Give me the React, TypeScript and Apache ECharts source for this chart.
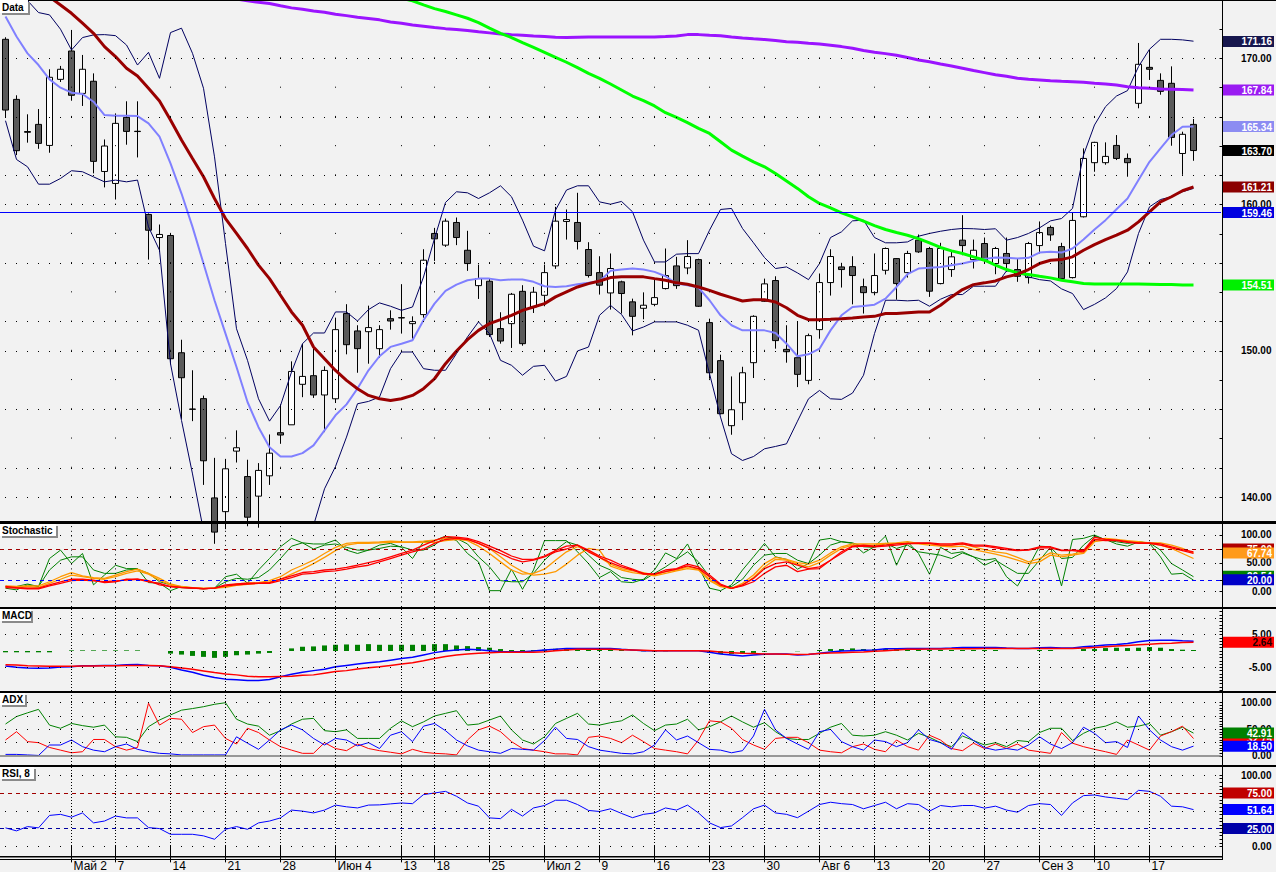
import React, { useEffect, useRef } from "react";
import * as echarts from "echarts";

// ---------- categories ----------
const barDates: string[] = [
  "23.04","24.04","25.04","26.04","27.04","28.04",
  "02.05","03.05","04.05","05.05","07.05","08.05","10.05","11.05","12.05",
  "14.05","15.05","16.05","17.05","18.05",
  "21.05","22.05","23.05","24.05","25.05",
  "28.05","29.05","30.05","31.05","01.06",
  "04.06","05.06","06.06","07.06","08.06","09.06",
  "13.06","14.06","15.06",
  "18.06","19.06","20.06","21.06","22.06",
  "25.06","26.06","27.06","28.06","29.06",
  "02.07","03.07","04.07","05.07","06.07",
  "09.07","10.07","11.07","12.07","13.07",
  "16.07","17.07","18.07","19.07","20.07",
  "23.07","24.07","25.07","26.07","27.07",
  "30.07","31.07","01.08","02.08","03.08",
  "06.08","07.08","08.08","09.08","10.08",
  "13.08","14.08","15.08","16.08","17.08",
  "20.08","21.08","22.08","23.08","24.08",
  "27.08","28.08","29.08","30.08","31.08",
  "03.09","04.09","05.09","06.09","07.09",
  "10.09","11.09","12.09","13.09","14.09",
  "17.09","18.09","19.09","20.09","21.09",
];
const xTickIndex = [6, 10, 15, 20, 25, 30, 36, 39, 44, 49, 54, 59, 64, 69, 74, 79, 84, 89, 94, 99, 104];
const xTickText = ["Май 2","7","14","21","28","Июн 4","13","18","25","Июл 2","9","16","23","30","Авг 6","13","20","27","Сен 3","10","17"];

// ---------- prices ----------
const opens = [171.31,167.20,165.00,165.49,164.05,168.57,170.51,167.61,168.44,162.27,
161.45,165.97,165.02,159.33,157.75,157.89,149.87,146.02,146.73,139.94,
139.00,143.14,141.40,140.06,141.45,144.40,144.94,147.71,148.30,146.98,
146.72,152.55,151.36,151.31,150.15,152.20,152.27,151.86,152.48,158.03,
157.23,158.78,156.88,154.46,154.76,151.52,151.86,154.07,153.00,153.80,
155.81,158.85,158.78,156.93,155.35,153.96,154.72,153.35,152.91,153.18,
154.26,155.81,155.67,156.24,151.93,149.33,144.88,146.45,149.19,153.39,
154.81,150.10,149.53,147.98,151.45,154.67,155.74,155.76,154.39,153.98,
155.51,156.31,155.35,157.57,157.00,154.60,155.56,157.57,156.24,157.34,
155.97,156.66,155.56,155.01,157.20,158.44,157.13,155.01,159.17,162.87,
162.87,164.05,163.16,166.93,169.39,168.50,168.30,163.50,165.49];
const closes = [166.47,163.69,164.95,164.19,168.71,169.26,167.48,169.26,162.96,164.01,
165.56,165.01,165.00,158.25,157.96,149.46,148.16,146.00,142.48,137.60,
141.93,143.37,138.62,141.82,143.00,144.24,148.59,148.25,146.98,148.66,
151.45,150.42,150.15,151.59,151.45,152.04,152.25,152.00,156.20,157.66,
158.87,157.75,155.97,154.94,151.11,150.67,153.87,150.49,154.01,155.35,
158.87,158.98,157.48,155.15,154.49,155.63,153.92,152.36,153.12,153.64,
155.15,154.46,156.45,153.05,148.50,145.70,145.97,148.50,152.36,154.58,
150.70,149.94,148.39,151.04,154.67,156.45,155.56,155.15,153.98,155.15,
157.00,154.60,156.66,156.77,154.08,157.00,156.43,157.20,156.88,156.20,
157.00,155.97,155.10,157.34,158.09,157.93,154.94,158.92,163.16,164.26,
163.30,163.16,162.87,169.60,169.26,167.75,164.60,164.81,163.70];
const lows = [165.97,163.39,164.24,163.82,163.55,168.39,167.11,166.75,162.14,161.18,
160.35,164.10,163.23,156.24,156.77,149.07,145.35,145.19,140.83,136.80,
137.80,142.36,138.00,137.90,140.83,143.64,144.94,146.83,146.78,144.44,
146.43,149.76,148.50,149.12,149.52,151.45,151.18,150.83,152.27,156.15,
157.11,157.23,155.47,153.55,150.95,150.49,150.20,150.35,152.59,153.05,
155.61,157.61,156.93,155.01,153.85,152.82,152.55,151.06,152.16,153.05,
154.20,154.24,155.24,153.00,148.09,145.65,144.26,145.26,148.14,153.35,
150.15,149.19,147.52,147.71,150.83,153.78,154.33,153.18,152.55,153.80,
155.22,153.50,155.01,156.70,153.69,154.55,155.06,156.54,155.63,155.97,
155.24,155.40,154.72,154.60,156.66,157.52,154.90,154.95,159.12,162.25,
162.73,163.05,161.91,166.59,168.53,167.52,164.03,162.04,163.00];
const highs = [171.45,167.48,166.18,166.54,169.26,169.49,171.95,170.24,168.98,164.46,
166.24,167.07,167.07,159.40,158.64,158.03,150.76,148.67,146.94,142.68,
142.61,144.56,142.55,142.32,144.28,146.34,149.28,150.49,150.17,148.94,
152.27,153.19,151.75,153.09,151.75,152.77,154.56,152.36,156.95,158.41,
159.05,159.12,158.21,155.90,154.94,152.64,153.96,154.49,154.37,155.90,
159.85,159.67,160.81,157.43,156.47,156.66,154.80,153.57,154.00,154.87,
157.00,156.43,157.57,156.30,152.20,149.74,148.25,148.91,152.43,154.94,
155.10,151.75,152.02,151.18,155.29,156.95,156.02,156.47,154.94,156.66,
157.07,156.35,156.84,157.96,157.11,157.39,156.84,159.28,157.61,157.75,
157.11,157.75,156.31,157.45,158.85,158.57,157.39,159.46,163.85,164.30,
164.26,164.76,163.50,171.06,170.58,168.98,169.46,164.99,165.86];

// ---------- overlays ----------
const bbUpper = [175.56,174.76,173.96,173.14,172.98,172.00,170.58,171.43,171.61,171.63,
171.56,170.92,169.55,170.42,168.64,171.77,172.07,170.35,167.96,163.27,
157.34,151.51,149.35,146.72,145.19,146.26,148.55,150.49,151.22,151.22,
152.66,152.66,152.04,152.82,153.28,153.05,152.77,153.00,155.05,157.68,
160.15,160.88,160.81,160.42,160.81,161.29,160.54,158.94,157.16,156.84,
159.62,161.00,161.29,161.29,160.19,160.03,160.22,159.51,157.57,156.08,
156.08,156.61,156.65,156.65,158.25,159.67,159.74,158.37,157.39,156.38,
155.63,155.74,155.33,154.87,155.97,157.75,158.14,158.89,158.94,157.75,
157.39,157.39,157.45,157.84,158.03,158.18,158.30,158.37,158.35,158.30,
158.35,157.57,157.75,158.03,158.41,158.89,159.05,159.74,163.39,165.45,
166.70,167.43,167.80,169.44,170.63,171.31,171.31,171.27,171.18];
const bbLower = [165.74,163.09,162.59,161.40,161.40,161.79,162.32,162.25,161.90,161.56,
161.68,161.56,161.68,158.48,156.88,149.12,145.24,141.58,137.70,135.50,
133.50,132.50,132.00,132.00,132.50,133.50,135.00,136.50,138.05,140.56,
142.09,144.10,146.38,146.54,146.84,148.78,149.92,149.92,148.78,148.67,
148.67,149.81,150.95,151.98,151.18,149.35,149.01,148.33,148.94,149.01,
147.93,148.25,149.99,150.26,152.43,153.11,152.49,151.36,151.63,151.98,
151.98,151.98,151.75,151.41,148.44,145.47,142.96,142.50,142.77,143.30,
143.46,143.64,145.19,146.72,147.29,146.72,146.68,147.11,148.33,151.18,
153.46,153.46,153.42,153.46,153.05,153.53,153.85,153.85,154.42,154.42,
154.42,155.47,155.40,155.06,154.87,154.78,154.24,153.92,152.82,153.18,
153.62,154.26,155.40,158.03,159.85,160.35,160.54,160.88,161.11];
const bbMiddle = [172.87,171.50,170.35,169.55,168.57,168.00,167.66,167.57,167.04,166.13,
166.08,166.08,166.06,165.56,164.65,162.82,160.76,158.48,155.97,153.46,
151.18,148.89,146.50,144.78,143.41,142.77,142.77,143.00,143.53,144.56,
145.59,146.34,147.42,148.67,149.63,150.27,150.49,150.72,152.09,153.23,
154.10,154.53,154.83,154.94,154.94,154.83,154.88,154.88,154.72,154.42,
154.37,154.42,154.56,154.65,154.76,155.47,155.56,155.63,155.56,155.40,
155.10,154.60,154.49,154.33,153.46,152.43,151.75,151.40,151.40,151.40,
151.22,150.49,149.63,149.76,150.15,151.40,152.43,153.00,153.07,153.16,
153.57,154.37,155.24,155.63,155.68,155.74,155.86,155.97,156.15,156.29,
156.38,156.36,156.31,156.36,156.72,156.77,156.72,157.00,157.61,158.30,
158.94,159.69,160.42,161.68,162.93,163.85,164.76,165.33,165.34];
const maRed = [176.40,175.85,175.30,174.76,174.21,173.66,173.09,172.41,171.72,170.81,
170.13,169.33,168.80,167.96,167.09,165.79,164.42,163.16,161.91,160.42,
159.05,158.03,157.00,155.86,154.94,153.80,152.66,151.75,150.26,149.46,
148.66,147.98,147.41,146.95,146.72,146.61,146.72,146.95,147.41,148.09,
149.12,149.99,150.76,151.40,151.86,152.13,152.43,152.77,153.00,153.23,
153.69,154.03,154.37,154.60,154.78,155.01,155.06,155.06,155.06,154.94,
154.83,154.65,154.56,154.37,154.14,153.87,153.64,153.41,153.50,153.50,
153.34,152.95,152.43,152.13,152.13,152.16,152.20,152.25,152.32,152.36,
152.55,152.55,152.61,152.66,152.66,153.12,153.69,154.19,154.53,154.65,
154.78,155.06,155.24,155.56,155.97,156.20,156.24,156.43,156.88,157.27,
157.61,157.91,158.25,158.82,159.51,160.19,160.54,160.95,161.21];
const maGreen = [null,null,null,null,null,null,null,null,null,null,
null,null,null,null,null,null,null,null,null,null,
null,null,null,null,null,null,null,null,null,null,
null,null,null,null,174.58,174.33,174.12,173.94,173.66,173.41,
173.21,172.98,172.75,172.45,172.07,171.72,171.43,171.08,170.76,170.42,
170.08,169.74,169.37,168.98,168.64,168.25,167.84,167.43,167.11,166.75,
166.29,165.97,165.61,165.22,164.87,164.30,163.73,163.32,162.93,162.59,
162.13,161.61,161.11,160.54,160.08,159.78,159.44,159.17,158.87,158.57,
158.30,158.09,157.91,157.68,157.39,157.07,156.84,156.66,156.43,156.20,
155.86,155.56,155.33,155.22,155.10,154.99,154.83,154.72,154.60,154.58,
154.58,154.58,154.58,154.58,154.56,154.53,154.53,154.51,154.51];
const maPurple = [null,null,null,null,null,null,null,null,null,null,
null,null,null,null,null,null,null,null,null,null,
174.24,174.07,173.94,173.85,173.76,173.60,173.46,173.37,173.25,173.16,
173.03,172.93,172.82,172.73,172.64,172.50,172.41,172.29,172.20,172.11,
172.04,171.98,171.91,171.82,171.75,171.68,171.63,171.59,171.54,171.50,
171.45,171.43,171.45,171.47,171.47,171.47,171.47,171.47,171.47,171.47,
171.50,171.54,171.63,171.63,171.59,171.56,171.47,171.40,171.34,171.29,
171.22,171.15,171.11,171.04,170.99,170.90,170.81,170.70,170.54,170.42,
170.33,170.22,170.06,169.90,169.78,169.62,169.49,169.33,169.17,169.03,
168.89,168.78,168.64,168.57,168.53,168.48,168.44,168.41,168.37,168.30,
168.25,168.18,168.07,168.00,167.96,167.91,167.89,167.87,167.84];
const levelPrice = 159.46;

// ---------- stochastic ----------
const stochGreenA = [5,2,11,8,58,73,49,67,11,28.5,46,40,40,15,14,0.6,8,5,4,5,25.5,30,14,37.5,58,79,94,86,
75,82,84,78,73,73,82,85,78,58,88,90,98,90,67,52,0.6,0.6,39,3,37.5,90,90,90,70,49,24,
34.5,16.5,15,21,37.5,68,58,84,43,5,0.6,11,37.5,61,85,61,56.5,39,49,91,94,88,85,68,79,98,46,88,
67,30,78,67,70,61,55,58,25.5,9,43,80,79,9,92,94,100,91,88,85,88,85,61,30,31.5,19.5];
const stochGreenB = [8,8,12.5,8,37.5,55,61,61,37.5,31.5,31.5,37.5,39,31.5,16.5,11,6,5,4,5,16.5,22.5,21,24,37.5,58,80,86,
84,84,91,73,67,73,76,80,79,73,73,82,97,94,84,61,43,18.5,16.5,16.5,31.5,55,73,88,82,64,46,
37.5,24,21,19.5,31.5,43,56.5,70,52,25.5,8,8,21,46,64,67,67,55,49,64,82,88,86,79,78,85,76,82,
70,67,64,58,68,61,46,55,43,31.5,31.5,55,78,58,60,82,98,92,84,80,87.5,86,73,49,37.5,25.5];
const stochRedA = [8,6,5,5,11,16.5,21,21,19.5,15,16.5,21,21,18.5,11,8,6.5,5.4,4.2,5,11,12.5,14,14,15,21,27,33,
34.5,37.5,39,42,46,50.5,55,61,67,73,82,90,97,96,94,88,80,72,62.5,56.5,56.5,62.5,72,80,82,73,62.5,
55,46,39,31.5,30,37.5,40,48,43,28.5,12.5,4.8,11,22.5,40,49,52,46,40,43,55,70,80,82,80,82,84,85,
86,86,84,84,86,82,82,79,76,73,74,79,79,73,73,72,96,92,91,88,86,86,84,79,74,70];
const stochRedB = [6,5,4,4,9,13.7,18.5,19.5,18,16.5,18,19.5,21,16.5,13.7,8,6,5,4,5,9,11,12.5,13.7,13.7,18.5,24,30,
31.5,34.5,36,39,43,46,52,58,64,70,75,85,92,94,92,85,76,67,58,52,55,61,70,75,82,70,60,
50.5,43,37.5,30,30,34.5,39,45,40,25.5,10.7,4.8,9,16.5,31.5,43,46,34.5,39,40,55,67,79,80,79,80,82,84,
85,85,82,82,84,80,80,77,74,72,73,77,77,72,72,70,92,90,90,87,85,85,82,77,72,67];
const stochOrangeA = [9,8,9,9,16.5,25.5,33,27,24,22.5,28.5,34.5,39,31.5,22.5,12.5,8,6,5,5,8,12.5,14,15,18.5,25.5,37.5,46,
55,67,78,85,87,87,87.5,89,88,87.5,89,91,94,93,90,80,67,52,37.5,30,31.5,39,55,70,79,72,60,
48,40,36,33,28.5,34.5,37.5,43,39,21,9,4.8,13.7,28.5,49,60,56.5,50.5,48,55,68,79,84,84,84,85,86,88,
85,84,82,82,84,79,74,70,67,60,52,58,68,64,66,70,91,94,92,90,88,86,86,82,76,67.74];
const stochOrangeB = [8,6.5,8,6.5,13.7,21,28.5,25.5,22.5,21,25.5,31.5,36,30,19.5,10.7,8,5.4,4.2,5,6.5,10,12,13.7,16,21,30,39,
49,60,72,82,85,85,86,87,87,87,87,87,90,92,92,85,76,61,46,34.5,28.5,30,34.5,48,64,76,73,
44.6,37.5,33,30,27,31.5,36,40,37.5,18.5,7.7,4.8,10.7,24,43,56.5,55,48,43,50.5,64,76,82,82,82,84,85,86,
84,82,80,79,80,74,70,66,61,55,49,52,64,61,64,67,88,91,91,88,87,85,82,76,67,58];

// ---------- MACD ----------
const macdLine = [-4.6,-5.0,-5.2,-5.3,-5.2,-4.9,-4.8,-4.5,-4.5,-4.4,-4.4,-4.2,-4.1,-4.4,-4.5,-5.0,-5.8,-6.5,-7.4,-8.1,-8.6,-8.8,-9.0,-9.0,-8.7,-7.9,-7.1,-6.5,
-6.0,-5.6,-4.8,-4.4,-4.0,-3.6,-3.3,-2.8,-2.3,-1.9,-1.2,-0.5,0,0.3,0.5,0.4,0.1,-0.2,-0.2,-0.2,0,0.3,0.5,0.8,0.8,0.8,0.8,
0.8,0.5,0.3,0.1,0.1,0.1,0.1,0.1,0.1,-0.4,-0.9,-1.2,-1.5,-1.2,-1.0,-0.9,-0.9,-1.2,-1.1,-0.7,-0.3,0,0.1,0.2,0.3,0.7,0.7,0.8,
0.8,0.8,0.8,0.9,1.1,1.1,1.1,1.1,0.9,0.8,0.8,1.0,1.1,0.9,0.9,1.3,1.5,1.8,2.0,2.3,2.8,3.2,3.3,3.3,3.1,3.0];
const macdSignal = [-4.2,-4.3,-4.5,-4.6,-4.7,-4.7,-4.7,-4.6,-4.6,-4.5,-4.5,-4.4,-4.4,-4.4,-4.5,-4.8,-5.2,-5.6,-6.1,-6.6,-7.0,-7.3,-7.7,-7.9,-7.9,-7.8,-7.7,-7.4,
-7.3,-6.8,-6.3,-6.0,-5.5,-5.1,-4.8,-4.4,-4.0,-3.6,-3.0,-2.3,-1.7,-1.2,-0.9,-0.7,-0.5,-0.4,-0.4,-0.4,-0.4,-0.2,0.1,0.3,0.5,0.5,0.5,
0.5,0.4,0.3,0.2,0.1,0.1,0.1,0.1,0.1,0,-0.3,-0.5,-0.7,-0.8,-0.9,-0.9,-1.0,-1.1,-1.0,-0.8,-0.6,-0.5,-0.4,-0.3,-0.1,0.1,0.3,0.5,
0.5,0.6,0.6,0.7,0.7,0.7,0.8,0.8,0.8,0.8,0.8,0.8,0.8,0.8,0.8,0.9,1.1,1.3,1.5,1.7,1.9,2.1,2.3,2.4,2.6,2.64];
const macdHist = [-0.4,-0.4,-0.4,-0.4,-0.4,0,0.2,0.2,0.2,0.2,0.2,0.2,0.2,0,0,-0.8,-1.1,-1.5,-1.8,-2.1,-1.8,-1.3,-1.1,-0.8,-0.6,0,0.8,1.3,
1.4,1.7,1.9,2.0,1.9,2.1,1.9,1.9,1.9,1.9,1.9,2.1,2.1,1.7,1.5,1.2,1.0,0.6,0.3,0.3,0.3,0.4,0.7,0.9,0.9,0.7,0.7,
0.5,0.3,0.1,-0.1,-0.2,-0.1,0,0,0,-0.6,-0.9,-0.9,-0.7,-0.6,-0.2,0,0,-0.1,0,0.3,0.6,0.6,0.8,0.6,0.6,0.6,0.6,0.6,
0.3,0.3,0.3,0.3,0.3,0.3,0.3,0.3,0,0,0,0.3,0.3,0,0,0.6,0.6,0.9,1.0,0.9,1.0,1.2,1.0,0.6,0.4,0.3];

// ---------- ADX ----------
const adxGreen = [60,74,81,87.5,58,52,61,57,54,58,36,35,27,55,67.5,77,86,89,92.5,97,100,69,60,56,39,47.5,60,69,
70.6,47.5,45.6,49,33,33,33,52,66,55,64,75,80,85,58,60,67.5,75,49,30,22.5,36,61,70.6,80,60,58,
62.5,66,77,61,47.5,58,60,69,49,55,64,75,64,54,62.5,45.6,33,31,31,42.5,54,61,39,37.5,39,45.6,39,30,
42.5,35,25,17.5,37.5,29,20.6,25,17.5,29,27,44,52,52,29,42.5,52,56,64,54,56,61,39,45.6,54,42.91];
const adxRed = [30,45.6,27,25,16,11,6,8,31,31,17.5,11,16,99,58,70.6,69,44,55,58,33,22.5,52,44,30,17.5,11,5,
5,25,14,10,22.5,14,10,7,4,12.5,7,5,4,2,30,49,56,45.6,27,14,11,8,4,4,2,35,37.5,
33,25,39,27,14,11,8,4,30,66,64,52,31,20.6,12.5,33,35,35,25,11,8,6,17.5,22.5,12.5,8,30,17.5,
11,39,30,14,10,24,14,22.5,14,22.5,11,8,5,44,24,17.5,12.5,8,3,30,20.6,11,37.5,45.6,56,32.75];
const adxBlue = [3,3,2,1,20.6,20.6,30,17.5,11,8,17.5,22.5,12.5,8,5,4,2,2,2,2,2,36,24,12.5,30,49,58,49,
33,20.6,33,30,19,25,14,39,45.6,27,56,61,47.5,30,19,11,8,5,14,12.5,11,29,54,33,31,17.5,11,
8,5,4,8,20.6,49,30,37.5,25,12.5,11,6,10,37.5,87.5,49,33,22.5,12.5,45.6,50,27,17.5,11,30,27,17.5,25,
49,31,25,12.5,44,29,15.6,11,14,11,20.6,36,22.5,14,25,54,42.5,25,27,16,75,49,30,17.5,11,18.5];

// ---------- RSI ----------
const rsi = [26,21.8,27.8,26,43.5,45,41,47,33,35.6,42.6,40,40,26.4,25,17,17,17,14.8,10,24,27.8,24,33,35.6,40,51,49.5,
47,51,58,55.6,54,58,58.3,59.7,61,60,72.7,75,77.3,70.4,61,56.5,40,39,52,42.6,54,57.4,64.8,64.8,58.8,50.5,49,
52.8,46.3,40.3,45,47,54,51,58,47,33,26.4,28.7,40.3,52.8,58,47,45,40.3,49.5,58.8,62,60,58.8,52.8,57.4,62,52.8,60,
58.8,49.5,57.4,55.6,57.4,57.4,53.7,56.5,51,48,57.4,60,58.8,43.5,61,71.3,72.2,69.4,67.6,65.7,78.7,77.3,70.4,56.5,55.6,51.64];

// ---------- axis ticks / labels ----------
const priceLabels = [140, 150, 160, 170];
const priceTicks = [140,142,144,146,148,150,152,154,156,158,160,162,164,166,168,170,172];
const priceDenseRows = [140,142,146,150,152,156,160,162,166,170];
const stochLabels = [0, 50, 100];
const macdLabels = [-5, 5];
const adxLabels = [0, 50, 100];
const rsiLabels = [0, 50, 100];

// right-hand value tags (text as printed)
const tags = [
  { k: 0, v: 171.16, text: "171.16", fill: "#17174E", color: "#fff" },
  { k: 0, v: 167.84, text: "167.84", fill: "#9A1CF2", color: "#fff" },
  { k: 0, v: 165.34, text: "165.34", fill: "#8C8CF2", color: "#fff" },
  { k: 0, v: 163.70, text: "163.70", fill: "#000000", color: "#fff" },
  { k: 0, v: 161.21, text: "161.21", fill: "#8B0000", color: "#fff" },
  { k: 0, v: 159.46, text: "159.46", fill: "#0000E0", color: "#fff" },
  { k: 0, v: 154.51, text: "154.51", fill: "#00F000", color: "#fff" },
  { k: 1, v: 75, text: "75.00", fill: "#B00000", color: "#fff" },
  { k: 1, v: 67.74, text: "67.74", fill: "#FF9A1A", color: "#fff" },
  { k: 1, v: 26.5, text: "26.54", fill: "#008000", color: "#fff" },
  { k: 1, v: 20, text: "20.00", fill: "#0000C8", color: "#fff" },
  { k: 2, v: 2.64, text: "2.64", fill: "#FF0000", color: "#200000" },
  { k: 3, v: 32.75, text: "32.75", fill: "#FF0000", color: "#fff" },
  { k: 3, v: 42.91, text: "42.91", fill: "#008000", color: "#fff" },
  { k: 3, v: 18.5, text: "18.50", fill: "#0000FF", color: "#fff" },
  { k: 4, v: 75, text: "75.00", fill: "#C00000", color: "#fff" },
  { k: 4, v: 51.64, text: "51.64", fill: "#0000FF", color: "#fff" },
  { k: 4, v: 25, text: "25.00", fill: "#0000A8", color: "#fff" },
];

const panelTitles = [
  { text: "Data", x: 0, y: 0, w: 28, h: 13 },
  { text: "Stochastic", x: 0, y: 524, w: 56, h: 12 },
  { text: "MACD", x: 0, y: 609, w: 31, h: 12 },
  { text: "ADX", x: 0, y: 693, w: 25, h: 12 },
  { text: "RSI, 8", x: 0, y: 767, w: 34, h: 12 },
];

const W = 1276;
const H = 872;
const GRID_W = 1221;
const FONT = '"Liberation Sans", Arial, sans-serif';

export default function App() {
  const ref = useRef<HTMLDivElement>(null);

  useEffect(() => {
    const el = ref.current;
    if (!el) return;
    const chart = echarts.init(el, null, { renderer: "svg" });

    const cats = [...barDates, "", ""];
    const nulls = cats.map(() => null);
    const ohlc = opens.map((o, i) => [o, closes[i], lows[i], highs[i]]);
    const tickSet = new Set(xTickIndex);
    const labelMap: Record<number, string> = {};
    xTickIndex.forEach((i, j) => (labelMap[i] = xTickText[j]));

    const grids = [
      { left: 0, top: 1, width: GRID_W, height: 520 },
      { left: 0, top: 524, width: GRID_W, height: 83 },
      { left: 0, top: 609, width: GRID_W, height: 82 },
      { left: 0, top: 693, width: GRID_W, height: 72 },
      { left: 0, top: 767, width: GRID_W, height: 89 },
    ];
    const yRanges = [
      [138.36, 173.93],
      [-28.57, 119.64],
      [-12.23, 12.84],
      [-16.9, 118.2],
      [-12.1, 111.5],
    ];
    const yLabelVals = [priceLabels, stochLabels, macdLabels, adxLabels, rsiLabels];
    const yTickVals = [
      priceTicks,
      [0, 20, 50, 75, 100],
      [-12,-11,-10,-9,-8,-7,-6,-5,-4,-3,-2,-1,0,1,2,3,4,5,6,7,8,9,10,11,12],
      [0,5,10,15,20,25,30,35,40,45,50,55,60,65,70,75,80,85,90,95,100],
      [0,5,10,15,20,25,30,35,40,45,50,55,60,65,70,75,80,85,90,95,100],
    ];

    const xAxis = grids.map((_, k) => ({
      type: "category",
      gridIndex: k,
      data: cats,
      boundaryGap: true,
      axisLine: { show: false },
      splitLine: { show: false },
      axisTick:
        k === 4
          ? { show: true, alignWithLabel: true, interval: (i: number) => tickSet.has(i), length: 16, lineStyle: { color: "#000", width: 1 } }
          : { show: false },
      axisLabel:
        k === 4
          ? {
              show: true,
              interval: (i: number) => tickSet.has(i),
              formatter: (_v: string, i: number) => labelMap[i] ?? "",
              align: "left",
              margin: 5,
              padding: [0, 0, 0, 2],
              fontFamily: FONT,
              fontSize: 12,
              color: "#000",
            }
          : { show: false },
    }));

    const yAxis = grids.map((_, k) => ({
      type: "value",
      gridIndex: k,
      position: "right",
      offset: 1.5,
      min: yRanges[k][0],
      max: yRanges[k][1],
      axisLine: { show: false },
      splitLine: { show: false },
      axisTick: { show: true, inside: true, length: 3, customValues: yTickVals[k], lineStyle: { color: "#000", width: 1 } },
      axisLabel: {
        show: true,
        customValues: yLabelVals[k],
        formatter: (v: number) => v.toFixed(2),
        align: "right",
        margin: 49,
        color: "#000",
        fontFamily: FONT,
        fontWeight: "bold",
        fontSize: 10,
      },
    }));

    const line = (data: (number | null)[], k: number, color: string, width: number, z = 3) => ({
      type: "line",
      data,
      xAxisIndex: k,
      yAxisIndex: k,
      symbol: "none",
      showSymbol: false,
      silent: true,
      z,
      lineStyle: { color, width },
      itemStyle: { color },
      emphasis: { disabled: true },
    });

    const rule = (k: number, items: any[], z = 1) => ({
      type: "line",
      data: nulls,
      xAxisIndex: k,
      yAxisIndex: k,
      symbol: "none",
      silent: true,
      z,
      markLine: {
        silent: true,
        symbol: ["none", "none"],
        label: { show: false },
        emphasis: { disabled: true },
        animation: false,
        data: items,
      },
    });

    const dotted = (v: number) => ({ yAxis: v, lineStyle: { type: [1, 10], dashOffset: 6, color: "#000", width: 1 } });
    const dashed = (v: number, color: string) => ({ yAxis: v, lineStyle: { type: [4, 4], color, width: 1 } });
    const weekLines = (pattern: number[]) =>
      xTickIndex.map((i) => ({ xAxis: i, lineStyle: { type: pattern, color: "#000", width: 1 } }));
    // main panel: dots only where the 2-unit rows cross the week columns
    const rowStep = 2 * (521 - 1) / (173.93 - 138.36);
    const mainWeekDots = xTickIndex.map((i) => [
      { coord: [i, 172], lineStyle: { type: [1, rowStep - 1], dashOffset: 0.5, color: "#000", width: 1 } },
      { coord: [i, 140] },
    ]);

    const series: any[] = [
      // main panel grid
      rule(0, [...priceDenseRows.map(dotted), ...mainWeekDots]),
      {
        type: "candlestick",
        data: ohlc,
        xAxisIndex: 0,
        yAxisIndex: 0,
        barWidth: 7,
        silent: true,
        z: 2,
        itemStyle: {
          color: "#FFFFFF",
          color0: "#5A5A5A",
          borderColor: "#000000",
          borderColor0: "#000000",
          borderColorDoji: "#000000",
          borderWidth: 1,
        },
      },
      line(bbUpper, 0, "#000060", 1, 3),
      line(bbLower, 0, "#000060", 1, 3),
      line(bbMiddle, 0, "#8080FF", 2, 3),
      line(maPurple, 0, "#9B14FF", 3, 4),
      line(maGreen, 0, "#00FF00", 3, 4),
      line(maRed, 0, "#990000", 3, 4),
      rule(0, [{ yAxis: levelPrice, lineStyle: { type: "solid", color: "#0000FF", width: 1 } }], 6),

      // stochastic
      rule(1, [dotted(100), dotted(50), dotted(0), dashed(75, "#A00000"), dashed(20, "#0000FF"), ...weekLines([1, 3.7])]),
      line(stochGreenB, 1, "#008000", 1),
      line(stochGreenA, 1, "#008000", 1),
      line(stochOrangeB, 1, "#FF9900", 1.3),
      line(stochOrangeA, 1, "#FF9900", 1.3),
      line(stochRedB, 1, "#FF0000", 1.3),
      line(stochRedA, 1, "#FF0000", 1.3),

      // MACD
      rule(2, [dotted(10), dotted(5), dotted(-5), ...weekLines([1, 2])]),
      {
        type: "bar",
        data: macdHist,
        xAxisIndex: 2,
        yAxisIndex: 2,
        barWidth: 5,
        silent: true,
        z: 2,
        itemStyle: { color: "#008000" },
      },
      line(macdLine, 2, "#0000FF", 1.5),
      line(macdSignal, 2, "#FF0000", 1.5),

      // ADX
      rule(3, [dotted(100), dotted(75), dotted(50), dotted(25), { yAxis: 0, lineStyle: { type: "solid", color: "#7A7A7A", width: 1.5 } }, ...weekLines([1, 2])]),
      line(adxGreen, 3, "#008000", 1),
      line(adxRed, 3, "#FF0000", 1),
      line(adxBlue, 3, "#0000FF", 1),

      // RSI
      rule(4, [dotted(100), dotted(50), dotted(0), dashed(75, "#A00000"), dashed(25, "#0000A0"), ...weekLines([1, 2])]),
      line(rsi, 4, "#0000FF", 1),
    ];

    chart.setOption({
      animation: false,
      backgroundColor: "#F2F2F2",
      textStyle: { fontFamily: FONT },
      grid: grids.map((g) => ({ ...g, show: false })),
      xAxis,
      yAxis,
      series,
    });

    // ---- frame, separators, titles and value tags ----
    const els: any[] = [];
    const rect = (x: number, y: number, w: number, h: number, fill: string, z = 100) => ({
      type: "rect",
      shape: { x, y, width: w, height: h },
      style: { fill },
      silent: true,
      z,
    });
    els.push(rect(0, 0, W, 1, "#000"));
    els.push(rect(0, 521, W, 3, "#000"));
    els.push(rect(0, 607, W, 2, "#000"));
    els.push(rect(0, 691, W, 2, "#000"));
    els.push(rect(0, 765, W, 2, "#000"));
    els.push(rect(0, 856, 1223, 1.5, "#000"));
    els.push(rect(0, 859, 1223, 1, "#000"));
    els.push(rect(1222, 0, 1, 860, "#000"));

    panelTitles.forEach((t) => {
      els.push(rect(t.x + 2, t.y + 2, t.w, t.h, "#8A8A8A", 110));
      els.push(rect(t.x, t.y, t.w, t.h, "#FFFFFF", 111));
      els.push({
        type: "text",
        x: t.x + 2,
        y: t.y + t.h / 2 + 0.5,
        silent: true,
        z: 112,
        style: {
          text: t.text,
          fill: "#000",
          font: `bold 10px ${FONT}`,
          align: "left",
          verticalAlign: "middle",
          textAlign: "left",
          textVerticalAlign: "middle",
        },
      });
    });

    tags.forEach((t, idx) => {
      const y = Number(chart.convertToPixel({ yAxisIndex: t.k } as any, t.v));
      els.push(rect(1223, y - 5.5, 51, 11, t.fill, 120 + idx * 2));
      els.push({
        type: "text",
        x: 1272,
        y: y + 0.5,
        silent: true,
        z: 121 + idx * 2,
        style: {
          text: t.text,
          fill: t.color,
          font: `bold 10px ${FONT}`,
          align: "right",
          verticalAlign: "middle",
          textAlign: "right",
          textVerticalAlign: "middle",
        },
      });
    });

    chart.setOption({ graphic: els });

    return () => {
      chart.dispose();
    };
  }, []);

  return (
    <div
      ref={ref}
      style={{ position: "fixed", left: 0, top: 0, width: W, height: H, background: "#F2F2F2" }}
    />
  );
}
